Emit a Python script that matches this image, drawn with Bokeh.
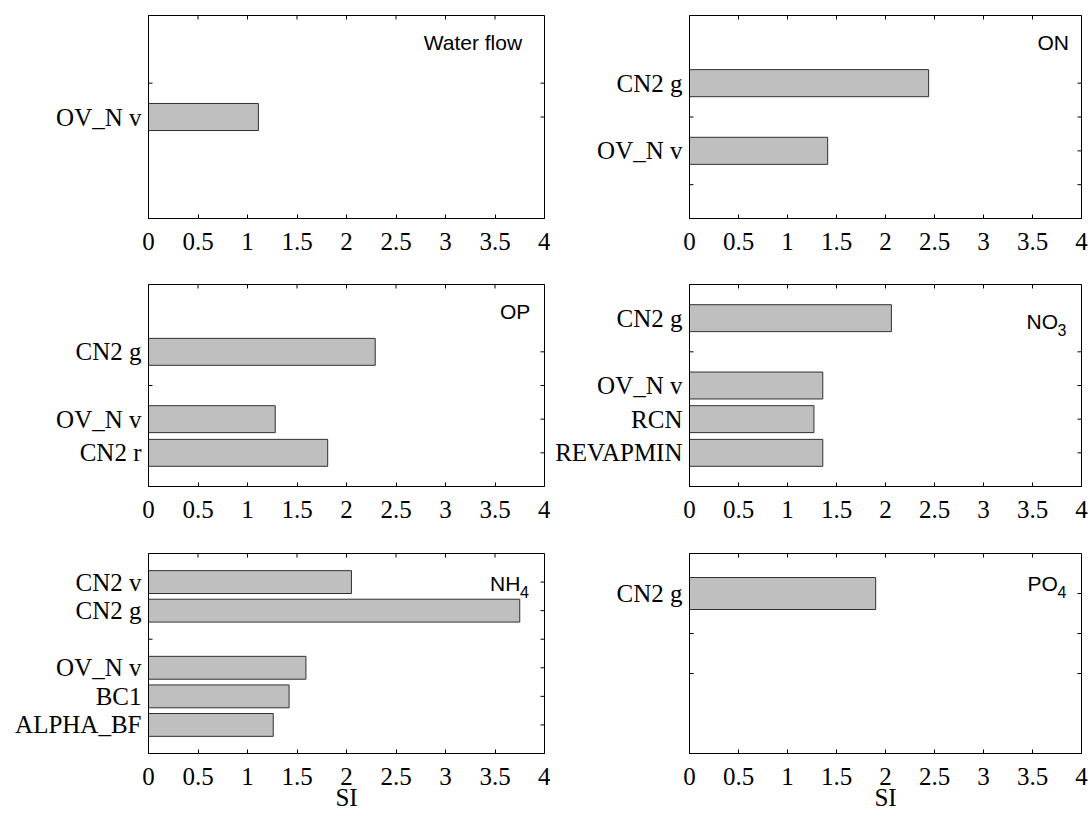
import numpy as np
from bokeh.plotting import figure
from bokeh.models import Range1d, FixedTicker, NumeralTickFormatter
from bokeh.layouts import gridplot
from bokeh.core.properties import value
from bokeh.embed import file_html
from bokeh.resources import INLINE

# ---------------- data ----------------
x_ticks = [0, 0.5, 1, 1.5, 2, 2.5, 3, 3.5, 4]
x_label = "SI"

wf_names = ["OV_N v"]
wf_pos = [3]
wf_si = [1.11]
wf_ticks = [2, 3]
wf_ymax = 6

on_names = ["CN2 g", "OV_N v"]
on_pos = [2, 4]
on_si = [2.44, 1.41]
on_ticks = [2, 3, 4, 5]
on_ymax = 6

op_names = ["CN2 g", "OV_N v", "CN2 r"]
op_pos = [2, 4, 5]
op_si = [2.29, 1.28, 1.81]
op_ticks = [2, 3, 4, 5]
op_ymax = 6

no3_names = ["CN2 g", "OV_N v", "RCN", "REVAPMIN"]
no3_pos = [1, 3, 4, 5]
no3_si = [2.06, 1.36, 1.27, 1.36]
no3_ticks = [2, 3, 4, 5]
no3_ymax = 6

nh4_names = ["CN2 v", "CN2 g", "OV_N v", "BC1", "ALPHA_BF"]
nh4_pos = [1, 2, 4, 5, 6]
nh4_si = [2.05, 3.75, 1.59, 1.42, 1.26]
nh4_ticks = [1, 2, 3, 4, 5, 6]
nh4_ymax = 7

po4_names = ["CN2 g"]
po4_pos = [1]
po4_si = [1.90]
po4_ticks = [1, 2, 3]
po4_ymax = 5

panels = [
    [dict(names=wf_names, pos=wf_pos, si=wf_si, ticks=wf_ticks, ymax=wf_ymax,
          title="Water flow", sub="", tx=2.78, ty=0.81, subdx=0),
     dict(names=on_names, pos=on_pos, si=on_si, ticks=on_ticks, ymax=on_ymax,
          title="ON", sub="", tx=3.55, ty=0.81, subdx=0)],
    [dict(names=op_names, pos=op_pos, si=op_si, ticks=op_ticks, ymax=op_ymax,
          title="OP", sub="", tx=3.55, ty=0.80, subdx=0),
     dict(names=no3_names, pos=no3_pos, si=no3_si, ticks=no3_ticks, ymax=no3_ymax,
          title="NO", sub="3", tx=3.44, ty=1.09, subdx=31)],
    [dict(names=nh4_names, pos=nh4_pos, si=nh4_si, ticks=nh4_ticks, ymax=nh4_ymax,
          title="NH", sub="4", tx=3.45, ty=1.04, subdx=30),
     dict(names=po4_names, pos=po4_pos, si=po4_si, ticks=po4_ticks, ymax=po4_ymax,
          title="PO", sub="4", tx=3.45, ty=0.74, subdx=30)],
]

# ---------------- style / layout ----------------
SERIF = "Liberation Serif"
SANS = "Liberation Sans"
FS = "25px"
COLS = [(148, 396, 6), (139, 392, 8)]                # left border, frame width, right border
ROWS = [(15, 203, 42), (24, 202, 42), (25, 200, 61)]  # top border, frame height, bottom border
TICK = 8  # full length of an edge tick marker (half of it lies inside the frame)


def build(cfg, r, c):
    lb, fw, rb = COLS[c]
    tb, fh, bb = ROWS[r]
    x0, x1 = x_ticks[0], x_ticks[-1]
    p = figure(width=lb + fw + rb, height=tb + fh + bb,
               x_range=Range1d(x0, x1), y_range=Range1d(cfg["ymax"], 0),
               output_backend="svg", toolbar_location=None,
               min_border_left=lb, min_border_right=rb,
               min_border_top=tb, min_border_bottom=bb)
    p.xgrid.visible = False
    p.ygrid.visible = False
    p.outline_line_color = "black"
    p.outline_line_width = 1
    p.background_fill_color = "white"
    p.border_fill_color = "white"

    ytop = p.y_range.end
    n_x = len(x_ticks)
    n_y = len(cfg["ticks"])
    # inward ticks on top, left and right edges (outer halves are clipped by the frame)
    p.scatter(x=x_ticks, y=[ytop] * n_x, marker="dash", size=TICK, angle=np.pi / 2,
              line_color="black", line_width=1)
    p.scatter(x=[x0] * n_y, y=cfg["ticks"], marker="dash", size=TICK,
              line_color="black", line_width=1)
    p.scatter(x=[x1] * n_y, y=cfg["ticks"], marker="dash", size=TICK,
              line_color="black", line_width=1)

    # bars
    p.hbar(y=cfg["pos"], left=0, right=cfg["si"], height=0.8,
           fill_color="#bfbfbf", line_color="#303030", line_width=1)

    # bottom axis
    xa = p.xaxis[0]
    xa.ticker = FixedTicker(ticks=x_ticks)
    xa.formatter = NumeralTickFormatter(format="0.[0]")
    xa.major_tick_in = 4
    xa.major_tick_out = 0
    xa.minor_tick_in = 0
    xa.minor_tick_out = 0
    xa.axis_line_color = "black"
    xa.major_tick_line_color = "black"
    xa.major_label_text_font = SERIF
    xa.major_label_text_font_size = FS
    xa.major_label_text_color = "black"
    xa.major_label_standoff = 14
    if r == 2:
        xa.axis_label = x_label
        xa.axis_label_text_font = SERIF
        xa.axis_label_text_font_size = FS
        xa.axis_label_text_font_style = "normal"
        xa.axis_label_text_color = "black"
        xa.axis_label_standoff = -4

    # left axis: category labels at bar positions
    ya = p.yaxis[0]
    ya.ticker = FixedTicker(ticks=cfg["pos"])
    ya.major_label_overrides = dict(zip(cfg["pos"], cfg["names"]))
    ya.major_tick_in = 0
    ya.major_tick_out = 0
    ya.minor_tick_in = 0
    ya.minor_tick_out = 0
    ya.axis_line_color = "black"
    ya.major_label_text_font = SERIF
    ya.major_label_text_font_size = FS
    ya.major_label_text_color = "black"
    ya.major_label_standoff = 7

    # panel title
    p.text(x=[cfg["tx"]], y=[cfg["ty"]], text=[cfg["title"]],
           text_font=value(SANS), text_font_size="21px", text_color="black",
           text_align="left", text_baseline="middle")
    if cfg["sub"]:
        p.text(x=[cfg["tx"]], y=[cfg["ty"]], text=[cfg["sub"]],
               x_offset=cfg["subdx"], y_offset=9,
               text_font=value(SANS), text_font_size="16px", text_color="black",
               text_align="left", text_baseline="middle")
    return p


grid = [[build(panels[r][c], r, c) for c in range(2)] for r in range(3)]
layout = gridplot(grid, toolbar_location=None)

open("out.html", "w").write(file_html(layout, INLINE))
